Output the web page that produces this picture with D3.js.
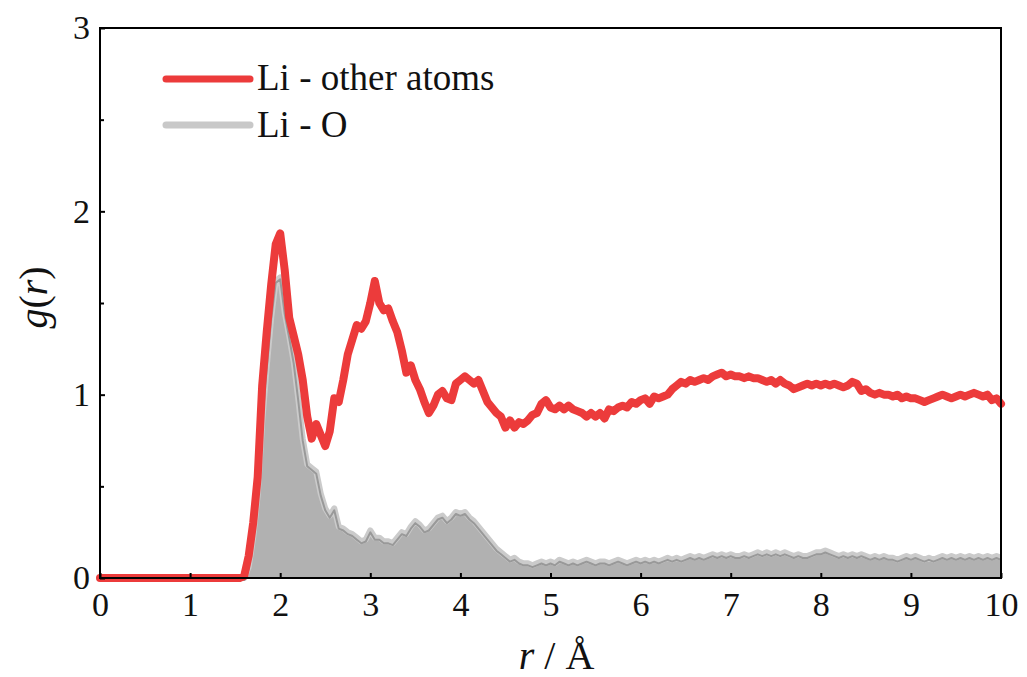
<!DOCTYPE html>
<html>
<head>
<meta charset="utf-8">
<script src="https://cdn.jsdelivr.net/npm/d3@7"></script>
<style>
  body { margin: 0; background: #fff; }
</style>
</head>
<body>
<div id="chart"></div>
<script>
// r grid (Å).
const rValues = [0,
  1.50, 1.55, 1.60, 1.65, 1.70, 1.75, 1.80, 1.85, 1.90, 1.95,
  2.00, 2.05, 2.10, 2.15, 2.20, 2.25, 2.30, 2.35, 2.40, 2.45,
  2.50, 2.55, 2.60, 2.65, 2.70, 2.75, 2.80, 2.85, 2.90, 2.95,
  3.00, 3.05, 3.10, 3.15, 3.20, 3.25, 3.30, 3.35, 3.40, 3.45,
  3.50, 3.55, 3.60, 3.65, 3.70, 3.75, 3.80, 3.85, 3.90, 3.95,
  4.00, 4.05, 4.10, 4.15, 4.20, 4.25, 4.30, 4.35, 4.40, 4.45,
  4.50, 4.55, 4.60, 4.65, 4.70, 4.75, 4.80, 4.85, 4.90, 4.95,
  5.00, 5.05, 5.10, 5.15, 5.20, 5.25, 5.30, 5.35, 5.40, 5.45,
  5.50, 5.55, 5.60, 5.65, 5.70, 5.75, 5.80, 5.85, 5.90, 5.95,
  6.00, 6.05, 6.10, 6.15, 6.20, 6.25, 6.30, 6.35, 6.40, 6.45,
  6.50, 6.55, 6.60, 6.65, 6.70, 6.75, 6.80, 6.85, 6.90, 6.95,
  7.00, 7.05, 7.10, 7.15, 7.20, 7.25, 7.30, 7.35, 7.40, 7.45,
  7.50, 7.55, 7.60, 7.65, 7.70, 7.75, 7.80, 7.85, 7.90, 7.95,
  8.00, 8.05, 8.10, 8.15, 8.20, 8.25, 8.30, 8.35, 8.40, 8.45,
  8.50, 8.55, 8.60, 8.65, 8.70, 8.75, 8.80, 8.85, 8.90, 8.95,
  9.00, 9.05, 9.10, 9.15, 9.20, 9.25, 9.30, 9.35, 9.40, 9.45,
  9.50, 9.55, 9.60, 9.65, 9.70, 9.75, 9.80, 9.85, 9.90, 9.95,
  10.00];

// g(r) Li - other atoms.
const gOther = [0,
  0.00, 0.00, 0.01, 0.12, 0.30, 0.55, 1.05, 1.34, 1.60, 1.82,
  1.88, 1.68, 1.42, 1.32, 1.22, 1.08, 0.88, 0.76, 0.84, 0.78,
  0.72, 0.80, 0.98, 0.96, 1.08, 1.22, 1.30, 1.38, 1.36, 1.40,
  1.50, 1.62, 1.50, 1.46, 1.47, 1.40, 1.34, 1.24, 1.12, 1.16,
  1.08, 1.03, 0.96, 0.90, 0.94, 1.00, 1.02, 0.98, 0.97, 1.06,
  1.08, 1.10, 1.08, 1.06, 1.08, 1.02, 0.96, 0.93, 0.90, 0.88,
  0.82, 0.86, 0.82, 0.85, 0.84, 0.86, 0.89, 0.90, 0.95, 0.97,
  0.93, 0.92, 0.94, 0.92, 0.94, 0.92, 0.91, 0.90, 0.88, 0.90,
  0.88, 0.90, 0.87, 0.92, 0.91, 0.93, 0.94, 0.93, 0.96, 0.95,
  0.97, 0.98, 0.95, 0.99, 0.98, 0.99, 1.00, 1.03, 1.05, 1.07,
  1.06, 1.08, 1.07, 1.08, 1.09, 1.08, 1.10, 1.11, 1.12, 1.10,
  1.11, 1.10, 1.10, 1.09, 1.10, 1.09, 1.09, 1.08, 1.07, 1.08,
  1.06, 1.08, 1.06, 1.05, 1.03, 1.04, 1.05, 1.06, 1.05, 1.06,
  1.05, 1.06, 1.05, 1.06, 1.05, 1.04, 1.05, 1.07, 1.06, 1.02,
  1.03, 1.01, 1.00, 1.01, 1.00, 1.00, 0.99, 1.00, 0.98, 0.99,
  0.98, 0.98, 0.97, 0.96, 0.97, 0.98, 0.99, 1.00, 0.99, 0.98,
  0.99, 1.00, 0.99, 1.00, 1.01, 1.00, 0.99, 1.00, 0.97, 0.98,
  0.95];

// g(r) Li - O.
const gLiO = [0,
  0.00, 0.00, 0.00, 0.06, 0.22, 0.45, 0.85, 1.15, 1.42, 1.62,
  1.64, 1.45, 1.32, 1.18, 0.98, 0.76, 0.62, 0.60, 0.58, 0.46,
  0.38, 0.34, 0.38, 0.28, 0.27, 0.25, 0.24, 0.22, 0.20, 0.21,
  0.26, 0.22, 0.22, 0.20, 0.20, 0.19, 0.22, 0.25, 0.24, 0.28,
  0.31, 0.29, 0.26, 0.27, 0.30, 0.33, 0.34, 0.31, 0.33, 0.36,
  0.35, 0.36, 0.33, 0.31, 0.28, 0.25, 0.22, 0.19, 0.16, 0.14,
  0.12, 0.10, 0.11, 0.09, 0.08, 0.08, 0.07, 0.08, 0.09, 0.08,
  0.09, 0.08, 0.10, 0.09, 0.08, 0.09, 0.08, 0.09, 0.10, 0.09,
  0.08, 0.09, 0.09, 0.08, 0.09, 0.10, 0.09, 0.08, 0.09, 0.10,
  0.09, 0.10, 0.09, 0.10, 0.09, 0.10, 0.11, 0.10, 0.11, 0.10,
  0.11, 0.12, 0.11, 0.12, 0.11, 0.12, 0.13, 0.12, 0.13, 0.12,
  0.13, 0.12, 0.12, 0.13, 0.12, 0.13, 0.14, 0.13, 0.14, 0.13,
  0.14, 0.13, 0.14, 0.13, 0.12, 0.13, 0.12, 0.12, 0.13, 0.14,
  0.14, 0.15, 0.14, 0.13, 0.12, 0.13, 0.12, 0.13, 0.12, 0.13,
  0.12, 0.11, 0.12, 0.11, 0.12, 0.11, 0.11, 0.10, 0.11, 0.12,
  0.11, 0.12, 0.11, 0.10, 0.11, 0.10, 0.11, 0.12, 0.11, 0.12,
  0.11, 0.12, 0.11, 0.12, 0.11, 0.12, 0.11, 0.12, 0.11, 0.12,
  0.11];

const xTicks = [0, 1, 2, 3, 4, 5, 6, 7, 8, 9, 10];
const yTicks = [0, 1, 2, 3];
const yMinorTicks = [0.5, 1.5, 2.5];
const seriesNames = ['Li - other atoms', 'Li - O'];

// SVG constants.
const width = 1027;
const height = 677;
const margin = {left: 100, right: 26, top: 28, bottom: 99};
const serif = '"Liberation Serif", "Times New Roman", serif';

const svg = d3.select('#chart')
              .append('svg')
              .attr('width', width)
              .attr('height', height)
              .attr('font-family', serif);

const x = d3.scaleLinear().domain([0, 10]).range([margin.left, width - margin.right]);
const y = d3.scaleLinear().domain([0, 3]).range([height - margin.bottom, margin.top]);

const pts = (vals) => rValues.map((r, i) => [r, vals[i]]);

// Li - O area.
const area = d3.area().x(d => x(d[0])).y0(y(0)).y1(d => y(d[1]));
const line = d3.line().x(d => x(d[0])).y(d => y(d[1]));

svg.append('path')
   .datum(pts(gLiO))
   .attr('d', area)
   .attr('fill', '#b1b1b1');

svg.append('path')
   .datum(pts(gLiO))
   .attr('d', line)
   .attr('fill', 'none')
   .attr('stroke', '#cbcbcb')
   .attr('stroke-width', 6)
   .attr('stroke-linejoin', 'round');

svg.append('path')
   .datum(pts(gLiO))
   .attr('d', line)
   .attr('transform', 'translate(0,2)')
   .attr('fill', 'none')
   .attr('stroke', '#999')
   .attr('stroke-width', 2)
   .attr('stroke-linejoin', 'round');

// Li - other atoms line.
svg.append('path')
   .datum(pts(gOther))
   .attr('d', line)
   .attr('fill', 'none')
   .attr('stroke', '#ec3b3b')
   .attr('stroke-width', 8)
   .attr('stroke-linejoin', 'round')
   .attr('stroke-linecap', 'round');

// Axes (ticks inward).
const xAxis = d3.axisBottom(x).tickValues(xTicks).tickFormat(d3.format('d'))
                .tickSizeInner(-5).tickSizeOuter(0).tickPadding(14);
const yAxis = d3.axisLeft(y).tickValues(yTicks).tickFormat(d3.format('d'))
                .tickSizeInner(-5).tickSizeOuter(0).tickPadding(10);

const gx = svg.append('g')
              .attr('transform', 'translate(0,' + y(0) + ')')
              .call(xAxis);
const gy = svg.append('g')
              .attr('transform', 'translate(' + x(0) + ',0)')
              .call(yAxis);

svg.append('g')
   .attr('transform', 'translate(' + x(0) + ',0)')
   .call(d3.axisLeft(y).tickValues(yMinorTicks).tickSize(-4).tickFormat(''))
   .call(g => g.select('.domain').remove());

[gx, gy].forEach(g => {
  g.attr('font-family', serif).attr('font-size', 34);
  g.select('.domain').remove();
  g.selectAll('.tick text').attr('fill', '#111');
});
svg.selectAll('.tick line').attr('stroke', '#000').attr('stroke-width', 2);
gx.selectAll('.tick text').attr('dy', '0.71em');

// Frame.
svg.append('rect')
   .attr('x', x(0))
   .attr('y', y(3))
   .attr('width', x(10) - x(0))
   .attr('height', y(0) - y(3))
   .attr('fill', 'none')
   .attr('stroke', '#000')
   .attr('stroke-width', 2);

// Axis titles.
const xt = svg.append('text')
              .attr('x', x(5) + 6)
              .attr('y', 669)
              .attr('text-anchor', 'middle')
              .attr('font-family', serif)
              .attr('font-size', 40)
              .attr('fill', '#111');
xt.append('tspan').attr('font-style', 'italic').text('r');
xt.append('tspan').text(' / Å');

const yt = svg.append('text')
              .attr('transform', 'translate(47,' + y(1.53) + ') rotate(-90)')
              .attr('text-anchor', 'middle')
              .attr('font-family', serif)
              .attr('font-size', 40)
              .attr('fill', '#111');
yt.append('tspan').attr('font-style', 'italic').text('g');
yt.append('tspan').text('(');
yt.append('tspan').attr('font-style', 'italic').text('r');
yt.append('tspan').text(')');

// Legend.
const legendColors = ['#ec3b3b', '#c8c8c8'];
const legend = svg.append('g').attr('id', 'legend');
legend.selectAll('line')
      .data(seriesNames)
      .enter()
      .append('line')
      .attr('x1', 166)
      .attr('x2', 250)
      .attr('y1', (d, i) => 79 + i * 46)
      .attr('y2', (d, i) => 79 + i * 46)
      .attr('stroke', (d, i) => legendColors[i])
      .attr('stroke-width', 7)
      .attr('stroke-linecap', 'round');
legend.selectAll('text')
      .data(seriesNames)
      .enter()
      .append('text')
      .attr('x', 257)
      .attr('y', (d, i) => 90 + i * 47)
      .attr('font-family', serif)
      .attr('font-size', 37)
      .attr('fill', '#111')
      .text(d => d);
</script>
</body>
</html>
